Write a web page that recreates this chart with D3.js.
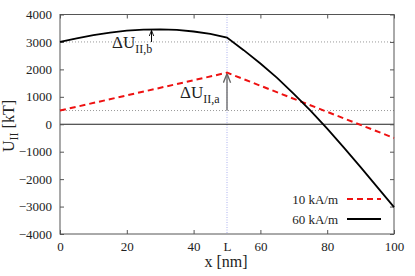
<!DOCTYPE html>
<html>
<head>
<meta charset="utf-8">
<script src="https://cdn.jsdelivr.net/npm/d3@7"></script>
<style>
body { margin: 0; background: #fff; }
text { font-family: "Liberation Serif", "DejaVu Serif", serif; fill: #222; }
</style>
</head>
<body>
<script>
// data
var xTicks = [0, 20, 40, 60, 80, 100];
var yTicks = [-4000, -3000, -2000, -1000, 0, 1000, 2000, 3000, 4000];
var xL = 50;
var gridVals = [3000, 500];

var x60 = [0, 5, 10, 15, 20, 25, 30, 35, 40, 45, 50, 55, 60, 65, 70, 75, 80, 85, 90, 95, 100];
var u60 = [3000, 3130, 3250, 3340, 3410, 3450, 3460, 3440, 3380, 3290, 3160, 2700, 2215, 1690, 1110, 500, -160, -850, -1560, -2290, -3020];
var x10 = [0, 50, 100];
var u10 = [500, 1880, -500];

var legendNames = ["10 kA/m", "60 kA/m"];

var svgWidth = 415, svgHeight = 276;
var margin = {top: 14.5, right: 21, bottom: 42, left: 60};
var width = svgWidth - margin.left - margin.right;
var height = svgHeight - margin.top - margin.bottom;

var svg = d3.select("body").append("svg").attr("width", svgWidth).attr("height", svgHeight);
var chart = svg.append("g").attr("transform", `translate(${margin.left}, ${margin.top})`);

var xScale = d3.scaleLinear().domain([0, 100]).range([0, width]);
var yScale = d3.scaleLinear().domain([-4000, 4000]).range([height, 0]);

// dotted guide lines
chart.selectAll(".grid").data(gridVals).enter().append("line")
  .attr("x1", 0).attr("x2", width)
  .attr("y1", d => yScale(d)).attr("y2", d => yScale(d))
  .attr("stroke", "#999").attr("stroke-width", 1).attr("stroke-dasharray", "1,2");
chart.append("line").attr("x1", xScale(xL)).attr("x2", xScale(xL))
  .attr("y1", 0).attr("y2", height)
  .attr("stroke", "#aab0ee").attr("stroke-width", 1).attr("stroke-dasharray", "1,1.5");
// zero line
chart.append("line").attr("x1", 0).attr("x2", width)
  .attr("y1", yScale(0)).attr("y2", yScale(0))
  .attr("stroke", "#222").attr("stroke-width", 1);

// axes with inward ticks, mirrored
function styleAxis(g) {
  g.select(".domain").remove();
  g.selectAll(".tick line").attr("stroke", "#555");
  g.selectAll("text").style("font-family", "Liberation Serif, serif").style("font-size", "13px").attr("fill", "#222");
}
var axBottom = chart.append("g").attr("transform", `translate(0, ${height})`)
  .call(d3.axisBottom(xScale).tickValues(xTicks.concat([xL])).tickSizeInner(-4).tickSizeOuter(0)
    .tickFormat(d => d === xL ? "L" : d).tickPadding(8));
styleAxis(axBottom);
axBottom.selectAll(".tick").filter(d => d === xL).select("line").remove();
var axTop = chart.append("g")
  .call(d3.axisTop(xScale).tickValues(xTicks).tickSizeInner(-4).tickSizeOuter(0).tickFormat(""));
styleAxis(axTop);
var axLeft = chart.append("g")
  .call(d3.axisLeft(yScale).tickValues(yTicks).tickSizeInner(-4).tickSizeOuter(0)
    .tickFormat(d3.format("d")).tickPadding(8));
styleAxis(axLeft);
var axRight = chart.append("g").attr("transform", `translate(${width}, 0)`)
  .call(d3.axisRight(yScale).tickValues(yTicks).tickSizeInner(-4).tickSizeOuter(0).tickFormat(""));
styleAxis(axRight);
chart.append("rect").attr("width", width).attr("height", height)
  .attr("fill", "none").attr("stroke", "#555").attr("stroke-width", 1);

// curves
var line = d3.line().x(d => xScale(d[0])).y(d => yScale(d[1]));
chart.append("path").datum(d3.zip(x10, u10)).attr("d", line)
  .attr("fill", "none").attr("stroke", "#ee1111").attr("stroke-width", 2).attr("stroke-dasharray", "6,4");
chart.append("path").datum(d3.zip(x60, u60)).attr("d", line)
  .attr("fill", "none").attr("stroke", "#000").attr("stroke-width", 1.8);

// arrows
var defs = svg.append("defs");
function marker(id, color) {
  defs.append("marker").attr("id", id).attr("viewBox", "0 0 10 10").attr("refX", 10).attr("refY", 5)
    .attr("markerWidth", 6).attr("markerHeight", 6).attr("orient", "auto-start-reverse")
    .append("path").attr("d", "M0,1 L10,5 L0,9").attr("fill", "none").attr("stroke", color).attr("stroke-width", 1.5);
}
marker("ahA", "#666");
marker("ahB", "#000");
chart.append("line").attr("x1", xScale(xL)).attr("x2", xScale(xL))
  .attr("y1", yScale(500)).attr("y2", yScale(1880) + 1)
  .attr("stroke", "#777").attr("stroke-width", 1.5).attr("marker-end", "url(#ahA)");
chart.append("line").attr("x1", xScale(27.4)).attr("x2", xScale(27.4))
  .attr("y1", yScale(3000)).attr("y2", yScale(3455) + 1)
  .attr("stroke", "#000").attr("stroke-width", 1).attr("marker-end", "url(#ahB)");

// delta labels
function deltaLabel(xp, yp, sub) {
  var t = svg.append("text").attr("x", xp).attr("y", yp).style("font-size", "17px");
  t.append("tspan").text("ΔU");
  t.append("tspan").attr("dy", 5).style("font-size", "12px").text(sub);
}
deltaLabel(112, 48, "II,b");
deltaLabel(180, 98, "II,a");

// axis titles
var yl = svg.append("text").attr("transform", "translate(14, 126) rotate(-90)")
  .attr("text-anchor", "middle").style("font-size", "16px");
yl.append("tspan").text("U");
yl.append("tspan").attr("dy", 4).style("font-size", "12px").text("II");
yl.append("tspan").attr("dy", -4).text(" [kT]");
svg.append("text").attr("x", 226).attr("y", 267).attr("text-anchor", "middle")
  .style("font-size", "16px").text("x [nm]");

// legend
var legend = svg.append("g");
var legendStyles = [{stroke: "#ee1111", dash: "6,4", w: 2}, {stroke: "#000", dash: null, w: 1.8}];
legendNames.forEach(function (name, i) {
  var yy = 199 + i * 20;
  legend.append("text").attr("x", 338).attr("y", yy).attr("dy", "0.35em")
    .attr("text-anchor", "end").style("font-size", "13px").text(name);
  legend.append("line").attr("x1", 347).attr("x2", 381).attr("y1", yy).attr("y2", yy)
    .attr("stroke", legendStyles[i].stroke).attr("stroke-width", legendStyles[i].w)
    .attr("stroke-dasharray", legendStyles[i].dash);
});
</script>
</body>
</html>
